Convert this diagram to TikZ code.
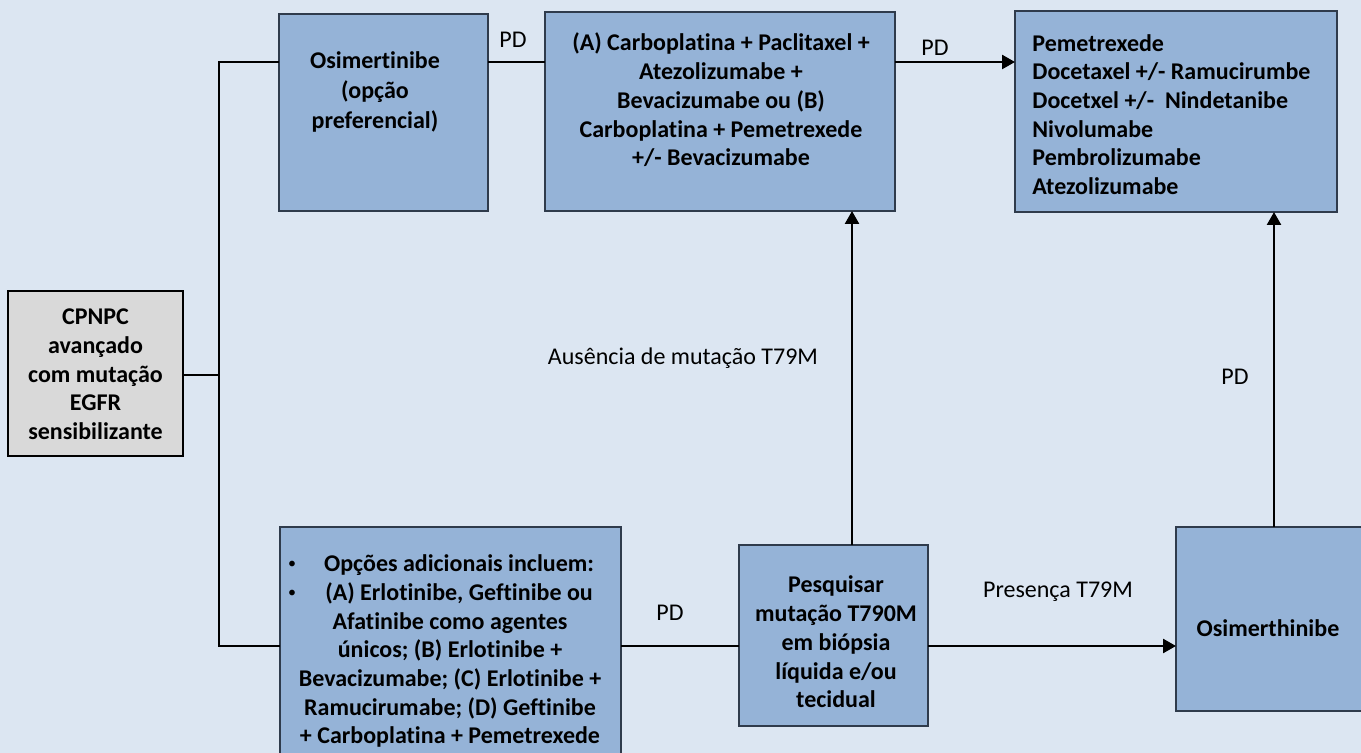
\documentclass[tikz,border=0pt]{standalone}
\usepackage{fontspec}
\setmainfont[Ligatures={NoCommon}]{Carlito}
\usetikzlibrary{arrows.meta}
\definecolor{bg}{HTML}{DCE6F2}
\definecolor{boxblue}{HTML}{95B3D7}
\definecolor{boxgray}{HTML}{D9D9D9}
\definecolor{edge}{HTML}{2F3B4C}
\begin{document}
\begin{tikzpicture}[x=0.5pt,y=-0.5pt,
  box/.style={draw=edge, line width=0.6pt, fill=boxblue, inner sep=0pt, outer sep=0pt},
  txt/.style={font=\bfseries\fontsize{12}{14.35}\selectfont, align=center, inner sep=0pt},
  bulletmark/.style={font=\fontsize{8}{10}\selectfont, inner sep=0pt},
  lbl/.style={font=\fontsize{12}{14}\selectfont, inner sep=0pt},
  conn/.style={line width=1.25pt, draw=black},
  arr/.style={conn, -{Triangle[length=6.5pt,width=7pt]}}]
\useasboundingbox (0,0) rectangle (1361,753);
\clip (0,0) rectangle (1361,753);
\fill[bg] (0,0) rectangle (1361,753);

% boxes
\node[box, fill=boxgray, draw=black, minimum width=87.5pt, minimum height=82.5pt] (cpnpc) at (95.5,373.5) {};
\node[box, minimum width=104.5pt, minimum height=98.5pt] (osim) at (383.5,112.5) {};
\node[box, minimum width=175pt, minimum height=99.5pt] (comb) at (720,111.5) {};
\node[box, minimum width=161pt, minimum height=100.5pt] (seg) at (1176,111.5) {};
\node[box, minimum width=170.5pt, minimum height=121.5pt] (opc) at (450.5,648.5) {};
\node[box, minimum width=94.5pt, minimum height=90.5pt] (pesq) at (833.5,635.5) {};
\node[box, minimum width=97pt, minimum height=92pt] (osim2) at (1273,619) {};

% texts
\node[txt] (tcpnpc) at (95.5,374.5) {CPNPC\\avançado\\com mutação\\EGFR\\sensibilizante};
\node[txt, font=\bfseries\fontsize{12}{15}\selectfont] (tosim) at (375,92) {Osimertinibe\\(opção\\preferencial)};
\node[txt] (tcomb) at (721,100) {(A) Carboplatina + Paclitaxel +\\Atezolizumabe +\\Bevacizumabe ou (B)\\Carboplatina + Pemetrexede\\+/- Bevacizumabe};
\node[txt, anchor=west, align=left] (tseg) at (1032,114.5) {Pemetrexede\\Docetaxel +/- Ramucirumbe\\Docetxel +/-~~Nindetanibe\\Nivolumabe\\Pembrolizumabe\\Atezolizumabe};
\node[txt] (topc1) at (459,579.5) {Opções adicionais incluem:\\(A) Erlotinibe, Geftinibe ou};
\node[txt] (topc2) at (450,680) {Afatinibe como agentes\\únicos; (B) Erlotinibe +\\Bevacizumabe; (C) Erlotinibe +\\Ramucirumabe; (D) Geftinibe\\+ Carboplatina + Pemetrexede};
\node[bulletmark] (bul1) at (292,565) {•};
\node[bulletmark] (bul2) at (292,594) {•};
\node[txt] (tpesq) at (836,642) {Pesquisar\\mutação T790M\\em biópsia\\líquida e/ou\\tecidual};
\node[txt] (tosim2) at (1268,628) {Osimerthinibe};

% connectors
\coordinate (ytop) at (0,62);
\coordinate (ybot) at (0,646);
\coordinate (bt) at (219,62);
\coordinate (bm) at (219,375);
\coordinate (bb) at (219,646);
\coordinate (xa) at (852,0);
\coordinate (xb) at (1274,0);

\draw[conn] (osim.west |- ytop) -- (bt) -- (bb) -- (opc.west |- ybot);
\draw[conn] (cpnpc.east |- bm) -- (bm);
\draw[conn] (osim.east |- ytop) -- (comb.west |- ytop);
\draw[arr] (comb.east |- ytop) -- (seg.west |- ytop);
\draw[conn] (opc.east |- ybot) -- (pesq.west |- ybot);
\draw[arr] (pesq.east |- ybot) -- (osim2.west |- ybot);
\draw[arr] (pesq.north -| xa) -- (comb.south -| xa);
\draw[arr] (osim2.north -| xb) -- (seg.south -| xb);

% labels
\node[lbl] (l1) at (513,40) {PD};
\node[lbl] (l2) at (935,48) {PD};
\node[lbl] (l3) at (670,613) {PD};
\node[lbl] (l4) at (1058,592) {Presença T79M};
\node[lbl] (l5) at (683,358) {Ausência de mutação T79M};
\node[lbl] (l6) at (1235,377) {PD};
\end{tikzpicture}
\end{document}
